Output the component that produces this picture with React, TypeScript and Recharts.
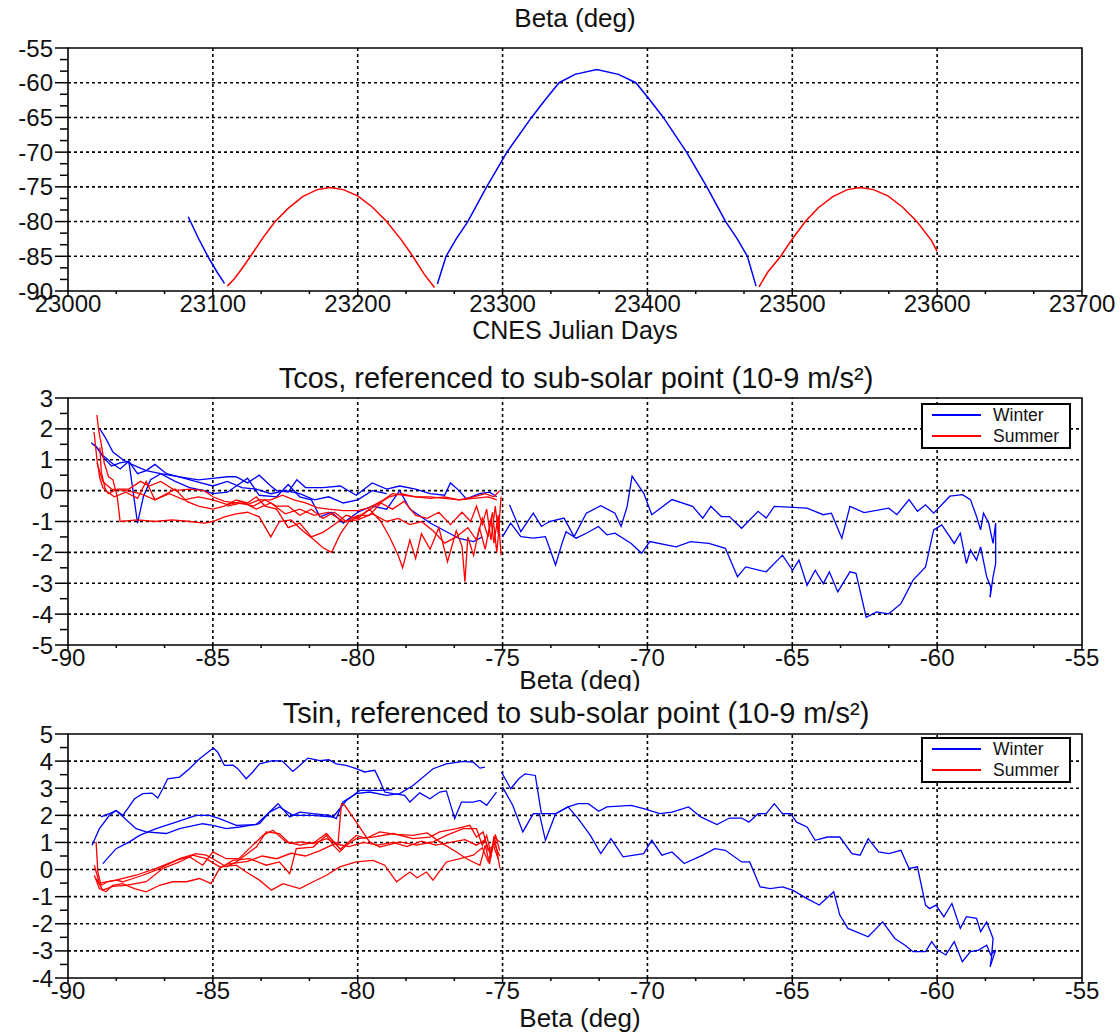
import React from 'react';
import { LineChart, Line, XAxis, YAxis, ReferenceLine, ReferenceArea } from 'recharts';

type Pt = [number, number];

const FONT = '"Liberation Sans", Arial, Helvetica, sans-serif';
const BLUE = '#0000ff';
const RED = '#ff0000';

// ---------- Panel 1: beta angle against CNES Julian day ----------
const dayTicks = [23000, 23100, 23200, 23300, 23400, 23500, 23600, 23700];
const betaTicks = [-90, -85, -80, -75, -70, -65, -60, -55];

const betaWinter1: Pt[] = [
  [23083, -79.3], [23090, -82.4], [23097, -85.2], [23103, -87.3], [23108, -88.9],
];
const betaSummer1: Pt[] = [
  [23110, -89.3], [23115, -88.2], [23120, -86.8], [23126, -85.0], [23135, -82.2],
  [23143, -80.0], [23152, -78.1], [23162, -76.4], [23172, -75.4], [23181, -75.1],
  [23190, -75.4], [23200, -76.3], [23210, -77.9], [23220, -80.0], [23230, -82.6],
  [23238, -85.0], [23246, -87.6], [23253, -89.5],
];
const betaWinter2: Pt[] = [
  [23255, -89.0], [23261, -85.0], [23268, -82.5], [23276, -80.0], [23289, -75.0],
  [23303, -70.0], [23320, -65.0], [23330, -62.3], [23339, -60.0], [23350, -58.8],
  [23365, -58.1], [23380, -58.8], [23392, -60.0], [23401, -62.3], [23411, -65.0],
  [23427, -70.0], [23441, -75.0], [23454, -80.0], [23462, -82.5], [23469, -85.0],
  [23475, -89.3],
];
const betaSummer2: Pt[] = [
  [23477, -89.4], [23483, -87.3], [23492, -85.0], [23500, -82.5], [23509, -80.0],
  [23518, -78.0], [23528, -76.4], [23538, -75.4], [23547, -75.1], [23556, -75.4],
  [23566, -76.3], [23576, -77.9], [23586, -80.0], [23596, -82.7], [23600, -84.3],
];

// ---------- shared beta axis for panels 2 and 3 ----------
const betaAxisTicks = [-90, -85, -80, -75, -70, -65, -60, -55];

// ---------- Panel 2: Tcos ----------
const tcosTicks = [-5, -4, -3, -2, -1, 0, 1, 2, 3];

const tcosWinter1: Pt[] = [
  [-89.2, 1.55], [-89.0, 1.4], [-88.8, 1.1], [-88.5, 0.8], [-88.2, 0.9], [-87.9, 0.95],
  [-87.6, 0.55], [-87.3, 0.65], [-87.0, 0.85], [-86.6, 0.55], [-86.2, 0.45], [-85.6, 0.3],
  [-85.0, 0.15], [-84.5, 0.3], [-84.0, 0.1], [-83.5, 0.05], [-83.0, -0.1], [-82.5, 0.0],
  [-82.0, -0.1], [-81.5, -0.3], [-81.0, -0.2], [-80.5, -0.4], [-80.0, -0.3], [-79.5, 0.0],
  [-79.0, -0.1],
];
const tcosWinter2: Pt[] = [
  [-88.9, 2.0], [-88.7, 1.7], [-88.45, 1.25], [-88.1, 1.0], [-87.8, 0.85], [-87.3, 0.65],
  [-86.8, 0.55], [-86.2, 0.45], [-85.5, 0.35], [-85.0, 0.4], [-84.5, 0.45], [-84.2, 0.45],
  [-83.8, 0.25], [-83.4, 0.5], [-83.0, 0.15], [-82.8, 0.0], [-82.4, -0.05], [-82.1, 0.35],
  [-81.8, 0.1], [-81.2, 0.1], [-80.6, 0.15], [-80.05, -0.15], [-79.5, 0.25], [-79.0, 0.05],
  [-78.55, 0.15], [-78.0, 0.05], [-77.5, -0.1], [-77.0, -0.15], [-76.8, 0.25], [-76.5, 0.0],
  [-76.25, -0.27], [-75.8, -0.1], [-75.45, -0.05], [-75.2, -0.2],
];
const tcosWinter3: Pt[] = [
  [-89.1, 1.5], [-88.8, 1.15], [-88.5, 0.9], [-88.2, 0.7], [-87.9, 0.95], [-87.6, -1.05],
  [-87.4, -0.2], [-87.15, 0.35], [-86.8, 0.55], [-86.3, 0.3], [-85.8, 0.1], [-85.3, 0.0],
  [-85.0, -0.1], [-84.5, -0.05], [-83.8, 0.4], [-83.4, -0.15], [-82.8, -0.2], [-82.4, 0.2],
  [-82.0, -0.2], [-81.6, -0.3], [-81.3, -0.85], [-80.9, -0.7], [-80.5, -1.05], [-80.0, -0.7],
  [-79.5, -0.5], [-79.0, -0.6], [-78.55, 0.0], [-78.2, -0.6], [-77.5, -1.05], [-77.0, -1.3],
  [-76.5, -1.55], [-76.0, -1.65], [-75.7, -1.5],
];
const tcosWinterUp: Pt[] = [
  [-74.76, -0.46], [-74.37, -1.33], [-73.94, -0.73], [-73.66, -1.16], [-73.38, -1.0],
  [-72.88, -0.89], [-72.53, -1.49], [-72.11, -0.73], [-71.61, -0.49], [-71.12, -0.73],
  [-70.91, -1.16], [-70.7, -0.51], [-70.53, 0.47], [-70.13, -0.08], [-69.85, -0.78],
  [-69.15, -0.29], [-68.44, -0.51], [-68.09, -0.89], [-67.81, -0.51], [-67.45, -0.84],
  [-67.17, -0.84], [-66.75, -1.22], [-66.18, -0.67], [-65.9, -0.89], [-65.62, -0.51],
  [-64.49, -0.57], [-63.93, -0.78], [-63.65, -0.73], [-63.29, -1.54], [-63.01, -0.51],
  [-62.52, -0.71], [-61.67, -0.57], [-61.39, -0.78], [-60.97, -0.29], [-60.68, -0.67],
  [-60.4, -0.46], [-60.12, -0.73], [-59.56, -0.18], [-59.13, -0.13], [-58.85, -0.29],
  [-58.64, -0.84], [-58.5, -1.27], [-58.4, -0.73], [-58.22, -1.05], [-58.07, -1.71],
  [-57.98, -1.05], [-57.98, -2.36], [-58.07, -2.79], [-58.17, -3.45],
];
const tcosWinterDown: Pt[] = [
  [-58.17, -3.45], [-58.15, -3.12], [-58.29, -2.79], [-58.5, -1.82], [-58.64, -2.25],
  [-58.85, -1.92], [-58.99, -2.36], [-59.2, -1.38], [-59.41, -1.71], [-59.84, -1.11],
  [-60.12, -1.27], [-60.4, -2.47], [-60.83, -2.9], [-61.25, -3.66], [-61.67, -3.99],
  [-62.09, -3.93], [-62.45, -4.1], [-62.8, -2.68], [-63.01, -2.63], [-63.43, -3.28],
  [-63.72, -2.63], [-63.93, -3.01], [-64.21, -2.58], [-64.49, -3.07], [-64.77, -2.25],
  [-64.99, -2.58], [-65.34, -2.09], [-65.9, -2.63], [-66.61, -2.47], [-66.89, -2.79],
  [-67.31, -1.87], [-67.88, -1.71], [-68.51, -1.65], [-69.01, -1.82], [-69.92, -1.65],
  [-70.2, -2.03], [-70.56, -1.71], [-71.12, -1.38], [-71.4, -1.43], [-71.69, -1.16],
  [-72.11, -1.38], [-72.46, -1.54], [-72.81, -1.33], [-72.95, -1.71], [-73.17, -2.41],
  [-73.52, -1.49], [-73.94, -1.54], [-74.37, -1.49], [-74.72, -1.05], [-75.0, -1.49],
];

const tcosSummer1: Pt[] = [
  [-89.0, 2.45], [-88.95, 2.0], [-88.85, 1.5], [-88.75, 0.9], [-88.6, 0.45], [-88.45, 0.35],
  [-88.3, -0.2], [-88.2, -1.0], [-87.6, -0.95], [-87.0, -1.0], [-86.4, -0.95], [-85.8, -1.0],
  [-85.3, -1.05], [-85.0, -1.0], [-84.6, -0.85], [-84.2, -0.75], [-83.8, -0.7], [-83.4, -0.85],
  [-83.0, -1.5], [-82.7, -1.0], [-82.3, -0.95], [-81.9, -1.3], [-81.5, -1.6], [-81.2, -1.85],
  [-80.9, -2.0], [-80.6, -1.4], [-80.3, -1.0], [-79.9, -0.8], [-79.4, -0.5], [-78.9, -0.2],
  [-78.5, -0.1], [-78.0, -0.2], [-77.5, -0.25], [-77.0, -0.2], [-76.5, -0.3], [-76.0, -0.2],
  [-75.6, -0.1], [-75.3, -0.2], [-75.1, 0.0],
];
const tcosSummer2: Pt[] = [
  [-89.1, 1.9], [-89.0, 1.0], [-88.9, 0.4], [-88.8, 0.1], [-88.6, -0.1], [-88.3, 0.05],
  [-87.9, 0.05], [-87.5, 0.3], [-87.2, 0.15], [-86.8, 0.3], [-86.3, 0.0], [-85.8, 0.05],
  [-85.3, 0.0], [-85.0, -0.2], [-84.6, -0.35], [-84.2, -0.4], [-83.8, -0.45], [-83.4, -0.3],
  [-83.0, -0.3], [-82.6, -0.15], [-82.2, -0.3], [-81.8, -0.4], [-81.4, -0.55], [-81.0, -0.6],
  [-80.5, -0.65], [-80.0, -0.65], [-79.6, -0.55], [-79.2, -0.35], [-78.8, -0.1], [-78.4, -0.15],
  [-78.0, -0.2], [-77.5, -0.2], [-77.0, -0.25], [-76.5, -0.3], [-76.0, -0.25], [-75.5, -0.2],
  [-75.2, -0.3],
];
const tcosSummer3: Pt[] = [
  [-88.9, 1.4], [-88.85, 0.6], [-88.7, 0.0], [-88.4, -0.2], [-88.0, -0.05], [-87.6, -0.25],
  [-87.3, 0.3], [-87.0, -0.3], [-86.7, -0.15], [-86.3, 0.05], [-85.9, -0.35], [-85.5, -0.5],
  [-85.0, -0.6], [-84.6, -0.5], [-84.2, -0.3], [-83.8, -0.4], [-83.5, -0.2], [-83.2, -0.5],
  [-82.8, -0.6], [-82.4, -1.2], [-82.0, -1.05], [-81.6, -1.5], [-81.2, -1.35], [-80.8, -1.1],
  [-80.4, -0.8], [-80.0, -0.9], [-79.6, -0.6], [-79.2, -1.0], [-78.9, -1.5], [-78.6, -2.1],
  [-78.45, -2.5], [-78.2, -1.6], [-78.0, -2.2], [-77.8, -1.4], [-77.5, -1.9], [-77.2, -1.2],
  [-76.9, -2.3], [-76.6, -1.3], [-76.4, -1.8], [-76.3, -2.95], [-76.2, -1.5], [-76.0, -2.1],
  [-75.8, -1.2], [-75.6, -1.9], [-75.4, -0.9], [-75.3, -1.7], [-75.15, -0.8], [-75.05, -2.1],
];
const tcosSummer4: Pt[] = [
  [-75.05, -0.2], [-75.15, -1.4], [-75.25, -0.5], [-75.4, -1.6], [-75.55, -0.6], [-75.7, -1.1],
  [-75.9, -0.5], [-76.1, -1.0], [-76.4, -0.7], [-76.8, -1.1], [-77.2, -0.7], [-77.6, -0.9],
  [-78.0, -0.8], [-78.4, -0.35], [-78.8, -0.6], [-79.2, -0.4], [-79.6, -0.8], [-80.0, -0.8],
  [-80.4, -1.0], [-80.8, -0.7], [-81.2, -0.9], [-81.6, -0.6], [-82.0, -0.8], [-82.4, -0.5],
  [-82.8, -0.5], [-83.2, -0.3], [-83.6, -0.5], [-84.0, -0.4], [-84.5, -0.5],
];
const tcosSummer5: Pt[] = [
  [-75.1, -1.0], [-75.2, -2.0], [-75.35, -0.7], [-75.5, -1.5], [-75.7, -0.9], [-75.9, -1.6],
  [-76.2, -1.2], [-76.6, -1.5], [-77.0, -1.7], [-77.4, -1.3], [-77.8, -1.0], [-78.2, -1.1],
  [-78.6, -0.9], [-79.0, -1.0], [-79.5, -0.75], [-80.0, -0.95], [-80.5, -1.0], [-81.0, -0.7],
  [-81.5, -0.8], [-82.0, -0.6], [-82.5, -0.75], [-83.0, -0.4], [-83.5, -0.6], [-84.0, -0.35],
  [-84.5, -0.45], [-85.0, -0.3], [-85.5, -0.2], [-86.0, -0.3], [-86.5, -0.1], [-87.0, -0.3],
  [-87.5, -0.1], [-88.0, 0.0], [-88.5, 0.05], [-88.8, 0.3], [-89.0, 0.9],
];

// ---------- Panel 3: Tsin ----------
const tsinTicks = [-4, -3, -2, -1, 0, 1, 2, 3, 4, 5];

const tsinWinter1: Pt[] = [
  [-89.17, 0.9], [-88.92, 1.5], [-88.57, 2.0], [-88.34, 2.18], [-88.11, 2.0], [-87.94, 2.25],
  [-87.71, 2.6], [-87.42, 2.8], [-87.1, 2.82], [-86.9, 2.64], [-86.73, 2.98], [-86.56, 3.35],
  [-86.15, 3.41], [-85.81, 3.72], [-85.46, 4.09], [-85.17, 4.33], [-84.98, 4.48], [-84.83, 4.33],
  [-84.6, 3.84], [-84.3, 3.85], [-84.14, 3.72], [-83.85, 3.35], [-83.62, 3.6], [-83.39, 3.9],
  [-82.93, 4.02], [-82.6, 4.0], [-82.24, 3.62], [-82.0, 3.84], [-81.72, 4.11], [-81.31, 4.02],
  [-81.0, 4.05], [-80.74, 3.9], [-80.4, 3.84], [-80.05, 3.72], [-79.76, 3.6], [-79.41, 3.66],
  [-79.24, 3.29], [-79.07, 2.86], [-78.78, 2.8], [-78.38, 2.74], [-78.2, 2.49], [-77.86, 2.83],
  [-77.51, 2.61], [-77.17, 2.86], [-76.94, 2.9], [-76.65, 1.88], [-76.42, 2.49], [-76.01, 2.49],
  [-75.78, 2.55], [-75.55, 2.37], [-75.21, 2.86],
];
const tsinWinter2: Pt[] = [
  [-88.8, 0.22], [-88.34, 0.77], [-87.88, 1.02], [-87.53, 1.26], [-86.96, 1.51], [-86.27, 1.75],
  [-85.58, 2.0], [-85.12, 2.0], [-84.77, 1.88], [-84.19, 1.63], [-83.5, 1.66], [-83.16, 2.0],
  [-82.75, 2.43], [-82.35, 1.94], [-82.0, 2.12], [-81.54, 2.06], [-80.97, 2.0], [-80.74, 1.88],
  [-80.51, 2.49], [-80.05, 2.8], [-79.59, 2.86], [-79.01, 2.74], [-78.55, 2.8], [-78.09, 3.1],
  [-77.4, 3.72], [-76.94, 3.9], [-76.36, 3.99], [-76.01, 3.96], [-75.78, 3.74], [-75.61, 3.78],
];
const tsinWinter3: Pt[] = [
  [-88.86, 1.94], [-88.6, 2.05], [-88.34, 2.18], [-87.65, 1.51], [-87.3, 1.39], [-86.61, 1.33],
  [-86.15, 1.51], [-85.35, 1.69], [-85.0, 1.63], [-84.54, 1.51], [-84.08, 1.57], [-83.39, 1.69],
  [-83.04, 2.12], [-82.7, 2.31], [-82.24, 2.0], [-81.54, 2.0], [-80.85, 1.94], [-80.39, 2.55],
  [-79.93, 2.92], [-79.24, 2.92], [-78.8, 2.95],
];
const tsinWinterUp: Pt[] = [
  [-75.04, 3.6], [-74.72, 2.98], [-74.44, 3.35], [-74.22, 3.53], [-73.87, 3.47], [-73.66, 2.06],
  [-73.17, 2.06], [-72.74, 2.31], [-72.39, 2.43], [-72.04, 2.43], [-71.68, 2.15], [-71.4, 2.31],
  [-70.98, 2.34], [-70.56, 2.37], [-70.13, 2.25], [-69.57, 2.06], [-69.15, 2.12], [-68.58, 2.31],
  [-68.16, 1.94], [-67.6, 1.66], [-67.17, 1.9], [-66.75, 1.9], [-66.5, 1.75], [-66.18, 2.06],
  [-65.9, 2.06], [-65.62, 2.43], [-65.34, 2.06], [-65.06, 2.06], [-64.85, 1.75], [-64.49, 1.57],
  [-64.21, 1.08], [-63.79, 1.2], [-63.36, 1.2], [-62.94, 0.59], [-62.66, 0.53], [-62.38, 1.14],
  [-62.02, 0.65], [-61.67, 0.59], [-61.25, 0.71], [-60.97, 0.04], [-60.68, 0.1], [-60.4, -1.31],
  [-60.26, -1.44], [-60.04, -1.31], [-59.77, -1.74], [-59.49, -1.25], [-59.2, -2.17],
  [-58.99, -1.74], [-58.64, -1.8], [-58.5, -2.29], [-58.29, -1.93], [-58.07, -2.54],
  [-58.12, -3.2], [-58.17, -3.58],
];
const tsinWinterDown: Pt[] = [
  [-58.17, -3.58], [-57.98, -2.97], [-58.15, -3.15], [-58.29, -2.79], [-58.57, -2.97],
  [-58.85, -3.03], [-59.13, -3.4], [-59.41, -2.66], [-59.7, -3.15], [-59.98, -2.97],
  [-60.19, -2.66], [-60.4, -3.03], [-60.83, -3.03], [-61.11, -2.79], [-61.46, -2.54],
  [-61.88, -1.93], [-62.38, -2.48], [-63.08, -2.17], [-63.36, -1.68], [-63.57, -0.82],
  [-64.07, -1.31], [-64.49, -1.07], [-64.99, -0.76], [-65.34, -0.64], [-65.76, -0.7],
  [-66.11, -0.64], [-66.47, 0.28], [-66.75, 0.28], [-67.31, 0.71], [-67.67, 0.77],
  [-68.09, 0.53], [-68.73, 0.22], [-69.15, 0.65], [-69.5, 0.53], [-69.85, 1.08], [-70.13, 0.59],
  [-70.84, 0.47], [-71.26, 1.14], [-71.61, 0.59], [-71.97, 1.26], [-72.39, 1.88], [-72.74, 2.31],
  [-73.17, 2.06], [-73.52, 1.08], [-73.73, 2.06], [-73.94, 2.06], [-74.3, 1.39], [-74.65, 2.37],
  [-75.0, 3.04],
];

const tsinSummer1: Pt[] = [
  [-89.03, 1.02], [-88.97, -0.09], [-88.86, -0.58], [-88.63, -0.45], [-88.34, -0.39],
  [-88.11, -0.45], [-87.76, -0.33], [-87.42, -0.21], [-86.96, -0.02], [-86.5, 0.22],
  [-86.15, 0.4], [-85.58, 0.59], [-85.23, 0.53], [-85.0, 0.4], [-84.54, 0.1], [-84.19, 0.28],
  [-83.5, 0.83], [-83.16, 1.39], [-82.7, 1.33], [-82.35, 0.96], [-81.95, 1.02], [-81.54, 0.96],
  [-81.08, 1.14], [-80.68, 0.96], [-80.56, 2.43], [-80.45, 2.37], [-80.05, 1.75], [-79.59, 1.02],
  [-79.24, 0.83], [-78.55, 1.02], [-77.97, 0.9], [-77.4, 1.02], [-76.94, 1.26], [-76.36, 1.51],
  [-75.9, 1.51], [-75.7, 0.9], [-75.55, 1.26], [-75.4, 0.6], [-75.27, 1.14], [-75.09, 0.04],
];
const tsinSummer2: Pt[] = [
  [-89.09, -0.21], [-88.92, -0.7], [-88.69, -0.82], [-88.46, -0.58], [-88.11, -0.52],
  [-87.71, -0.7], [-87.3, -0.82], [-86.84, -0.58], [-86.38, -0.45], [-85.92, -0.45],
  [-85.46, -0.33], [-85.06, -0.52], [-84.77, 0.04], [-84.31, 0.34], [-83.73, 0.4], [-83.16, 0.16],
  [-82.7, 0.28], [-82.35, -0.15], [-82.12, 0.77], [-81.54, 0.83], [-81.08, 1.26], [-80.85, 0.9],
  [-80.62, 0.65], [-80.39, 0.9], [-80.05, 1.14], [-79.47, 1.2], [-78.78, 1.33], [-78.09, 1.14],
  [-77.51, 1.2], [-77.17, 1.39], [-76.59, 1.51], [-76.13, 1.63], [-75.9, 1.2], [-75.67, 1.39],
  [-75.5, 0.7], [-75.32, 0.9], [-75.15, 0.4],
];
const tsinSummer3: Pt[] = [
  [-89.03, -0.33], [-88.8, -0.76], [-88.45, -0.62], [-88.0, -0.58], [-87.3, -0.45], [-86.73, 0.04],
  [-86.15, 0.28], [-85.69, 0.53], [-85.23, 0.4], [-84.77, 0.1], [-84.19, 0.16], [-83.85, -0.09],
  [-83.39, -0.39], [-82.98, -0.76], [-82.58, -0.52], [-82.0, -0.7], [-81.54, -0.45], [-81.08, -0.21],
  [-80.62, 0.1], [-80.05, 0.28], [-79.47, 0.34], [-79.07, 0.16], [-78.66, -0.45], [-78.2, -0.09],
  [-77.95, -0.3], [-77.63, -0.09], [-77.4, -0.39], [-76.94, 0.28], [-76.47, 0.4], [-76.01, 0.53],
  [-75.7, 0.8], [-75.5, 0.3], [-75.3, 1.0], [-75.1, 0.5],
];
const tsinSummer4: Pt[] = [
  [-89.09, 0.16], [-88.92, -0.5], [-88.34, -0.39], [-87.65, -0.21], [-86.96, 0.04], [-86.27, 0.34],
  [-85.81, 0.47], [-85.35, 0.16], [-85.0, 0.65], [-84.54, 0.4], [-84.1, 0.4], [-83.62, 0.9],
  [-83.27, 1.26], [-82.93, 1.45], [-82.47, 1.02], [-82.0, 0.9], [-81.5, 1.0], [-81.08, 1.33],
  [-80.6, 0.75], [-80.05, 1.26], [-79.7, 1.15], [-79.24, 1.39], [-78.7, 1.3], [-78.09, 1.26],
  [-77.6, 1.35], [-77.17, 1.02], [-76.59, 0.65], [-76.24, 0.4], [-75.78, 0.16], [-75.6, 0.9],
  [-75.45, 0.2], [-75.3, 1.2], [-75.09, 1.02],
];
const tsinSummer5: Pt[] = [
  [-75.1, 0.7], [-75.25, 1.3], [-75.4, 0.5], [-75.6, 1.1], [-75.9, 0.9], [-76.3, 1.1],
  [-76.8, 1.0], [-77.3, 0.9], [-77.8, 1.05], [-78.3, 0.85], [-78.8, 1.0], [-79.3, 0.9],
  [-79.8, 1.0], [-80.3, 0.85], [-80.8, 0.95], [-81.3, 0.7], [-81.8, 0.5], [-82.3, 0.6],
  [-82.8, 0.4], [-83.3, 0.5], [-83.8, 0.3], [-84.5, 0.2],
];

// ---------- helpers ----------
const rows = (pts: Pt[]) => pts.map(([x, y]) => ({ x, y }));

// major ticks plus evenly spaced minor ticks between them
const withMinor = (majors: number[], parts: number) => {
  const out: number[] = [];
  majors.forEach((m, i) => {
    out.push(m);
    if (i < majors.length - 1) {
      const step = (majors[i + 1] - m) / parts;
      for (let k = 1; k < parts; k++) out.push(m + k * step);
    }
  });
  return out;
};

const isMajor = (majors: number[], v: number) => majors.some((m) => Math.abs(m - v) < 1e-6);

const makeXTick = (majors: number[]) => (props: any) => {
  const { x, y, payload } = props;
  const major = isMajor(majors, payload.value);
  return (
    <g>
      <line x1={x} x2={x} y1={y} y2={y + (major ? 5 : 3)} stroke="#000" strokeWidth={1.5} />
      {major && (
        <text x={x} y={y + 21} textAnchor="middle" fontFamily={FONT} fontSize={24} fill="#111">
          {String(payload.value)}
        </text>
      )}
    </g>
  );
};

const makeYTick = (majors: number[]) => (props: any) => {
  const { x, y, payload } = props;
  const major = isMajor(majors, payload.value);
  return (
    <g>
      <line x1={x} x2={x - (major ? 13 : 8)} y1={y} y2={y} stroke="#000" strokeWidth={1.5} />
      {major && (
        <text x={x - 15} y={y + 8.5} textAnchor="end" fontFamily={FONT} fontSize={24} fill="#111">
          {String(payload.value)}
        </text>
      )}
    </g>
  );
};

const gridProps = { stroke: '#000', strokeWidth: 1.6, strokeDasharray: '3 3' };

const series = (key: string, pts: Pt[], color: string, width = 1.3) => (
  <Line
    key={key}
    data={rows(pts)}
    dataKey="y"
    type="linear"
    stroke={color}
    strokeWidth={width}
    dot={false}
    activeDot={false}
    isAnimationActive={false}
  />
);

const LegendBox = ({ top }: { top: number }) => (
  <g>
    <rect x={922} y={top} width={148} height={44} fill="#fff" stroke="#000" strokeWidth={2} />
    <line x1={932} x2={981} y1={top + 11} y2={top + 11} stroke={BLUE} strokeWidth={2} />
    <line x1={932} x2={981} y1={top + 32} y2={top + 32} stroke={RED} strokeWidth={2} />
    <text x={993} y={top + 17} fontFamily={FONT} fontSize={17.5} fill="#111">Winter</text>
    <text x={993} y={top + 38} fontFamily={FONT} fontSize={17.5} fill="#111">Summer</text>
  </g>
);

const betaPanel = (
  height: number,
  top: number,
  xHeight: number,
  yMajors: number[],
  yDomain: [number, number],
  lines: React.ReactNode[],
) => (
  <LineChart width={1120} height={height} margin={{ top, right: 38, bottom: 0, left: 0 }}>
    <XAxis
      dataKey="x"
      type="number"
      domain={[-90, -55]}
      ticks={withMinor(betaAxisTicks, 3)}
      interval={0}
      tick={makeXTick(betaAxisTicks)}
      tickLine={false}
      tickSize={0}
      tickMargin={0}
      axisLine={false}
      height={xHeight}
      allowDataOverflow
    />
    <YAxis
      type="number"
      domain={yDomain}
      ticks={withMinor(yMajors, 2)}
      interval={0}
      tick={makeYTick(yMajors)}
      tickLine={false}
      tickSize={0}
      tickMargin={0}
      axisLine={false}
      width={68}
      allowDataOverflow
    />
    {betaAxisTicks.slice(1, -1).map((v) => (
      <ReferenceLine key={'vx' + v} x={v} {...gridProps} />
    ))}
    {yMajors.slice(1, -1).map((v) => (
      <ReferenceLine key={'hy' + v} y={v} {...gridProps} />
    ))}
    <ReferenceArea x1={-90} x2={-55} y1={yDomain[0]} y2={yDomain[1]} fill="none" stroke="#000" strokeWidth={1.6} />
    {lines}
  </LineChart>
);

export default function App() {
  return (
    <div style={{ position: 'relative', width: 1120, height: 1034, background: '#fff', overflow: 'hidden' }}>
      <style>{'body{margin:0;background:#fff}'}</style>

      {/* Beta against day */}
      <div style={{ position: 'absolute', left: 0, top: 0 }}>
        <LineChart width={1120} height={345} margin={{ top: 48, right: 38, bottom: 0, left: 0 }}>
          <XAxis
            dataKey="x"
            type="number"
            domain={[23000, 23700]}
            ticks={withMinor(dayTicks, 3)}
            interval={0}
            tick={makeXTick(dayTicks)}
            tickLine={false}
            tickSize={0}
            tickMargin={0}
            axisLine={false}
            height={54}
            allowDataOverflow
          />
          <YAxis
            type="number"
            domain={[-90, -55]}
            ticks={withMinor(betaTicks, 3)}
            interval={0}
            tick={makeYTick(betaTicks)}
            tickLine={false}
            tickSize={0}
            tickMargin={0}
            axisLine={false}
            width={68}
            allowDataOverflow
          />
          {dayTicks.slice(1, -1).map((v) => (
            <ReferenceLine key={'d' + v} x={v} {...gridProps} />
          ))}
          {betaTicks.slice(1, -1).map((v) => (
            <ReferenceLine key={'b' + v} y={v} {...gridProps} />
          ))}
          <ReferenceArea x1={23000} x2={23700} y1={-90} y2={-55} fill="none" stroke="#000" strokeWidth={1.6} />
          {series('bw1', betaWinter1, BLUE, 1.5)}
          {series('bs1', betaSummer1, RED, 1.5)}
          {series('bw2', betaWinter2, BLUE, 1.5)}
          {series('bs2', betaSummer2, RED, 1.5)}
        </LineChart>
      </div>

      {/* Tcos against beta */}
      <div style={{ position: 'absolute', left: 0, top: 345 }}>
        {betaPanel(345, 53, 45, tcosTicks, [-5, 3], [
          series('cw1', tcosWinter1, BLUE),
          series('cw2', tcosWinter2, BLUE),
          series('cw3', tcosWinter3, BLUE),
          series('cwu', tcosWinterUp, BLUE),
          series('cwd', tcosWinterDown, BLUE),
          series('cs1', tcosSummer1, RED),
          series('cs2', tcosSummer2, RED),
          series('cs3', tcosSummer3, RED),
          series('cs4', tcosSummer4, RED),
          series('cs5', tcosSummer5, RED),
        ])}
      </div>

      {/* Tsin against beta */}
      <div style={{ position: 'absolute', left: 0, top: 690 }}>
        {betaPanel(344, 44, 56, tsinTicks, [-4, 5], [
          series('sw1', tsinWinter1, BLUE),
          series('sw2', tsinWinter2, BLUE),
          series('sw3', tsinWinter3, BLUE),
          series('swu', tsinWinterUp, BLUE),
          series('swd', tsinWinterDown, BLUE),
          series('ss1', tsinSummer1, RED),
          series('ss2', tsinSummer2, RED),
          series('ss3', tsinSummer3, RED),
          series('ss4', tsinSummer4, RED),
          series('ss5', tsinSummer5, RED),
        ])}
      </div>

      {/* titles, axis names and legends */}
      <svg
        width={1120}
        height={1034}
        style={{ position: 'absolute', left: 0, top: 0, pointerEvents: 'none' }}
      >
        <defs>
          <clipPath id="midPanelClip">
            <rect x={0} y={345} width={1120} height={346} />
          </clipPath>
        </defs>
        <g fontFamily={FONT} fill="#111" textAnchor="middle">
          <text x={575} y={27} fontSize={26}>Beta (deg)</text>
          <text x={575} y={339} fontSize={25}>CNES Julian Days</text>
          <text x={576} y={388} fontSize={29}>Tcos, referenced to sub-solar point (10-9 m/s²)</text>
          <text x={580} y={689} fontSize={26} clipPath="url(#midPanelClip)">Beta (deg)</text>
          <text x={576} y={723} fontSize={29}>Tsin, referenced to sub-solar point (10-9 m/s²)</text>
          <text x={580} y={1027} fontSize={26}>Beta (deg)</text>
        </g>
        <LegendBox top={404} />
        <LegendBox top={738} />
      </svg>
    </div>
  );
}
